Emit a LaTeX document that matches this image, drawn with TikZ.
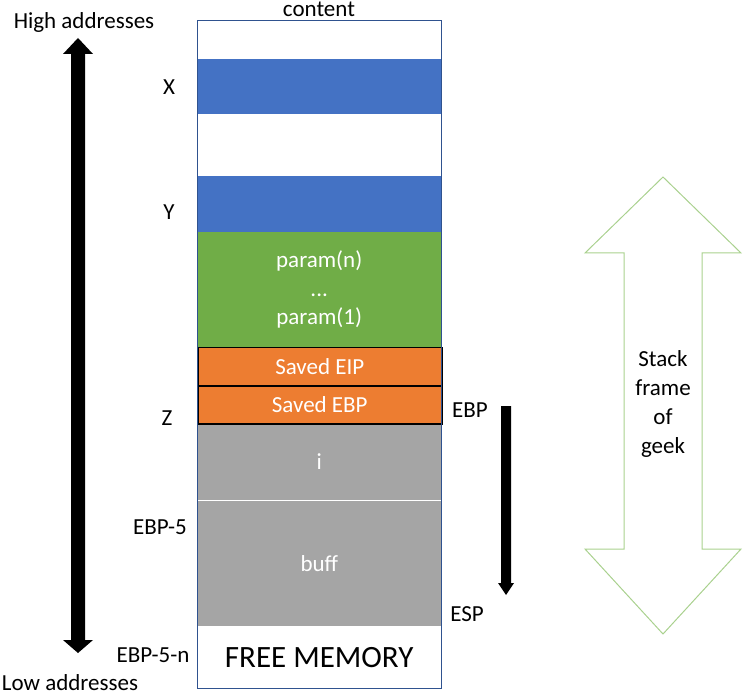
\documentclass[tikz,border=0pt]{standalone}
\usepackage{fontspec}
\setmainfont{Carlito}
\definecolor{cblue}{HTML}{4472C4}
\definecolor{cgreen}{HTML}{70AD47}
\definecolor{corange}{HTML}{ED7D31}
\definecolor{cgray}{HTML}{A5A5A5}
\definecolor{cedge}{HTML}{2F528F}
\definecolor{carrow}{HTML}{A9D18E}
\begin{document}
\begin{tikzpicture}[x=1pt,y=-1pt,
  cell/.style={rectangle,anchor=north west,inner sep=0pt,minimum width=244pt,text=white,font=\fontsize{23}{28}\selectfont,align=center},
  lbl/.style={inner sep=0pt,font=\fontsize{23}{29}\selectfont,align=center}]
\useasboundingbox (0,0) rectangle (744,700);
% cells
\node[cell,minimum height=39pt] (c1) at (197,20) {};
\node[cell,minimum height=55pt,fill=cblue] (c2) at (197,59) {};
\node[cell,minimum height=62pt] (c3) at (197,114) {};
\node[cell,minimum height=56pt,fill=cblue] (c4) at (197,176) {};
\node[cell,minimum height=115pt,fill=cgreen] (c5) at (197,232) {param(n)\\[0.5pt]...\\[0.5pt]param(1)};
\node[cell,minimum height=77pt,fill=cgray,draw=white,line width=0.6pt] (c8) at (197,423) {i};
\node[cell,minimum height=126pt,fill=cgray,draw=white,line width=0.6pt] (c9) at (197,500) {buff};
\node[cell,minimum height=38pt,fill=corange,draw=black,line width=1.5pt] (c6) at (197,347) {Saved EIP};
\node[cell,minimum height=38pt,fill=corange,draw=black,line width=1.5pt] (c7) at (197,385) {Saved EBP};
\node[cell,minimum height=62pt,text=black,font=\fontsize{31}{36}\selectfont] (c10) at (197,626) {FREE MEMORY};
\draw[cedge,line width=0.8pt] (c1.north west) rectangle (c10.south east);
% labels
\node[lbl] (content) at (319,9) {content};
\node[lbl] (high) at (84,22) {High addresses};
\node[lbl] (low) at (70,683) {Low addresses};
\node[lbl] (lx) at (169,87) {X};
\node[lbl] (ly) at (169,212) {Y};
\node[lbl] (lz) at (167,418) {Z};
\node[lbl] (lebp) at (470,410) {EBP};
\node[lbl] (lesp) at (467,614) {ESP};
\node[lbl] (l5) at (160,527) {EBP-5};
\node[lbl] (l5n) at (153,655) {EBP-5-n};
% left double arrow
\fill[black] (78,38) -- (93,54) -- (85,54) -- (85,640) -- (93,640) -- (78,653) -- (63,640) -- (71,640) -- (71,54) -- (63,54) -- cycle;
% EBP->ESP arrow
\coordinate (dtop) at (506,406);
\coordinate (dbot) at (506,595);
\fill[black] (501,406) -- (511,406) -- (511,583) -- (514,583) -- (506,595) -- (498,583) -- (501,583) -- cycle;
% big outline arrow
\draw[carrow,line width=1pt] (663,177) -- (741,253) -- (702,253) -- (702,549) -- (741,549) -- (663,634) -- (585,549) -- (624,549) -- (624,253) -- (585,253) -- cycle;
\node[lbl] (sf) at (663,404) {Stack\\frame\\of\\geek};
\end{tikzpicture}
\end{document}
